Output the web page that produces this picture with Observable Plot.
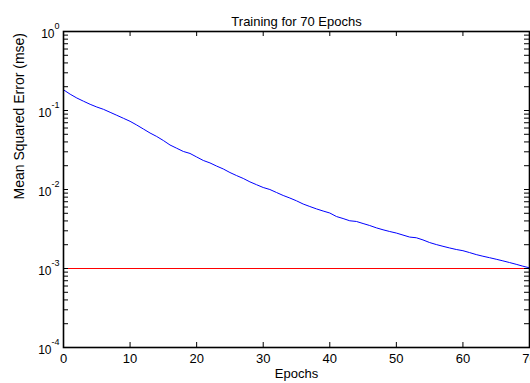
<!DOCTYPE html>
<html><head><meta charset="utf-8">
<script src="https://cdn.jsdelivr.net/npm/d3@7"></script>
<script src="https://cdn.jsdelivr.net/npm/@observablehq/plot@0.6"></script>
<style>html,body{margin:0;padding:0;background:#fff} svg{display:block}</style>
</head><body><div id="chart"></div>
<script>
const title = "Training for 70 Epochs";
const xLabel = "Epochs";
const yLabel = "Mean Squared Error (mse)";
const goal = 1e-3;
const mse = [
  0.1828, 0.1608, 0.1439, 0.1311, 0.1198, 0.1107, 0.1035, 0.0949, 0.0870, 0.0797,
  0.0730, 0.0655, 0.0583, 0.0519, 0.0469, 0.0417, 0.0366, 0.0333, 0.0303, 0.0286,
  0.0258, 0.0233, 0.0217, 0.0198, 0.0182, 0.0164, 0.0150, 0.0138, 0.0125, 0.0115,
  0.0106, 0.0100, 0.00916, 0.00840, 0.00780, 0.00719, 0.00655, 0.00609, 0.00568, 0.00534,
  0.00504, 0.00455, 0.00429, 0.00402, 0.00394, 0.00371, 0.00350, 0.00327, 0.00309, 0.00294,
  0.00281, 0.00265, 0.00250, 0.00245, 0.00230, 0.00213, 0.00201, 0.00191, 0.00182, 0.00174,
  0.00168, 0.00159, 0.00150, 0.00143, 0.00137, 0.00131, 0.00125, 0.00119, 0.00113, 0.00107,
  0.00102
];
const xTicks = [0, 10, 20, 30, 40, 50, 60, 70];
const yDecades = [1e-4, 1e-3, 1e-2, 1e-1, 1];
const minorMult = [2, 3, 4, 5, 6, 7, 8, 9];

const data = mse.map((v, i) => ({epoch: i, mse: v}));
const yMinor = yDecades.slice(0, -1).flatMap(d => minorMult.map(m => d * m));
const yAllTicks = yDecades.concat(yMinor);
const tl = 5;

const plot = Plot.plot({
  width: 530,
  height: 383,
  marginLeft: 63,
  marginRight: 1,
  marginTop: 31,
  marginBottom: 36,
  style: {fontFamily: "'Liberation Sans', Arial, sans-serif", fontSize: "13px", background: "white", color: "black"},
  x: {domain: [0, 70], axis: null},
  y: {type: "log", domain: [1e-4, 1], axis: null},
  marks: [
    Plot.ruleY([goal], {y: d => d, stroke: "#ff0000", strokeWidth: 1}),
    Plot.line(data, {x: "epoch", y: "mse", stroke: "#0000ff", strokeWidth: 1}),
    // inward ticks
    Plot.ruleX(xTicks, {x: d => d, y1: 1e-4, y2: 1e-4, insetBottom: tl, stroke: "black"}),
    Plot.ruleX(xTicks, {x: d => d, y1: 1, y2: 1, insetTop: tl, stroke: "black"}),
    Plot.ruleY(yAllTicks, {y: d => d, x1: 0, x2: 0, insetLeft: tl, stroke: "black"}),
    Plot.ruleY(yAllTicks, {y: d => d, x1: 70, x2: 70, insetRight: tl, stroke: "black"}),
    Plot.frame({stroke: "black", strokeWidth: 1.6}),
    Plot.axisX({ticks: xTicks, tickSize: 0, tickPadding: 6, fontSize: 13, label: null, tickFormat: d => String(d)}),
    Plot.axisY({ticks: yDecades, tickSize: 0, tickPadding: 4, fontSize: 12, label: null, dy: 2.5,
      tickFormat: d => `10^${Math.round(Math.log10(d))}`}),
    Plot.text([title], {text: d => d, frameAnchor: "top", dy: -15, fontSize: 13}),
    Plot.text([xLabel], {text: d => d, frameAnchor: "bottom", dy: 30, fontSize: 13}),
    Plot.text([yLabel], {text: d => d, frameAnchor: "left", rotate: -90, dx: -44, dy: 10, fontSize: 14})
  ]
});

const ns = "http://www.w3.org/2000/svg";
plot.querySelectorAll('g[aria-label="y-axis tick label"] text').forEach(t => {
  const s = t.textContent;
  const parts = s.split("^");
  if (parts.length !== 2) return;
  t.textContent = "";
  const a = document.createElementNS(ns, "tspan");
  a.textContent = parts[0];
  t.appendChild(a);
  const b = document.createElementNS(ns, "tspan");
  b.setAttribute("dy", "-9");
  b.setAttribute("font-size", "9");
  b.textContent = parts[1];
  t.appendChild(b);
});

document.getElementById("chart").appendChild(plot);
</script>
</body></html>
